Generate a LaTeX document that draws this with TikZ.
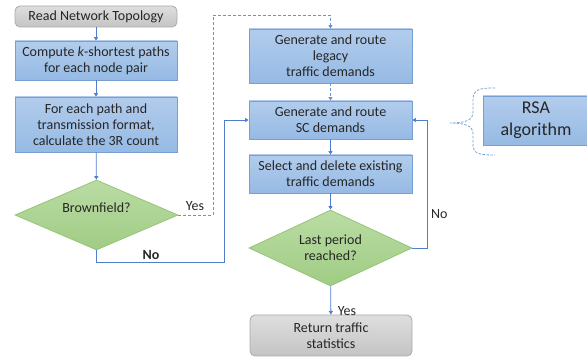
\documentclass[tikz,border=0pt]{standalone}
\usepackage{fontspec}
\setmainfont{Carlito}
\usetikzlibrary{shapes.geometric,arrows.meta,calc}
\definecolor{boxfillA}{RGB}{178,204,236}
\definecolor{boxfillB}{RGB}{150,186,228}
\definecolor{boxline}{RGB}{118,160,212}
\definecolor{decfillA}{RGB}{186,220,164}
\definecolor{decfillB}{RGB}{160,204,132}
\definecolor{decline}{RGB}{150,196,120}
\definecolor{endfillA}{RGB}{222,222,222}
\definecolor{endfillB}{RGB}{196,196,196}
\definecolor{endline}{RGB}{170,170,170}
\definecolor{flow}{RGB}{80,126,204}
\definecolor{flowlight}{RGB}{104,146,214}
\tikzset{
  txt/.style={font=\fontsize{14}{16}\selectfont, text=black!85},
  procbox/.style={txt, draw=boxline, line width=0.8pt, top color=boxfillA, bottom color=boxfillB,
    inner sep=0pt, align=center},
  endbox/.style={txt, draw=endline, line width=0.8pt, top color=endfillA, bottom color=endfillB,
    rounded corners=5pt, inner sep=0pt, align=center},
  decbox/.style={txt, diamond, draw=decline, line width=0.8pt, top color=decfillA, bottom color=decfillB,
    inner sep=0pt, aspect=2.3, align=center},
  flowline/.style={draw=flow, line width=0.8pt, -{Triangle[length=3.5pt,width=4pt]}},
  flowdash/.style={flowline, draw=flowlight, dashed, dash pattern=on 3pt off 2pt},
  lbl/.style={txt, inner sep=1pt},
}
\begin{document}
\begin{tikzpicture}[x=1pt,y=-1pt]
\useasboundingbox (0,0) rectangle (587,358);

% left column
\node[endbox, minimum width=162pt, minimum height=21pt] (read) at (96,16.5) {Read Network Topology};
\node[procbox, minimum width=162pt, minimum height=39pt] (kpath) at (96,60.5) {Compute \emph{k}-shortest paths\\for each node pair};
\node[procbox, minimum width=162pt, minimum height=55pt] (count) at (96,124.5) {For each path and\\transmission format,\\calculate the 3R count};
\node[decbox, minimum width=163pt, minimum height=70pt] (brown) at (96.5,215) {};
\node[txt] at (96.5,208) {Brownfield?};

% right column
\node[procbox, minimum width=163pt, minimum height=54pt] (legacy) at (330.5,56) {Generate and route\\legacy\\traffic demands};
\node[procbox, minimum width=163pt, minimum height=38pt] (sc) at (330.5,120) {Generate and route\\SC demands};
\node[procbox, minimum width=163pt, minimum height=38pt] (sel) at (330.5,174) {Select and delete existing\\traffic demands};
\node[decbox, minimum width=163pt, minimum height=76pt] (last) at (330.5,248) {Last period\\reached?};
\node[endbox, minimum width=162pt, minimum height=41pt] (ret) at (331,335.5) {Return traffic\\statistics};

% side box
\node[procbox, minimum width=106pt, minimum height=49pt, font=\fontsize{18}{22}\selectfont] (rsa) at (536,120.5) {RSA\\algorithm};

% junction points
\coordinate (yesA) at (213,215);
\coordinate (yesB) at (213,15);
\coordinate (noA) at (96.5,262);
\coordinate (noB) at (224,262);
\coordinate (loopA) at (427,248);
\coordinate (braceTip) at (450,123);

% connectors
\draw[flowline] (read) -- (kpath);
\draw[flowline] (kpath) -- (count);
\draw[flowline] (count) -- (brown);
\draw[flowdash] (brown.east) -- (yesA) -- (yesB) -| (legacy.north);
\draw[flowline] (brown.south) -- (noA) -- (noB) |- (sc.west);
\draw[flowdash] (legacy) -- (sc);
\draw[flowline] (sc) -- (sel);
\draw[flowline] (sel) -- (last);
\draw[flowline] (last.east) -- (loopA) |- (sc.east);
\draw[flowline] (last) -- (ret);

% labels
\node[lbl, anchor=south] at (195,212) {Yes};
\node[lbl, font=\fontsize{14}{16}\selectfont\bfseries, anchor=south] at (151,261) {No};
\node[lbl, anchor=west] at (430,214) {No};
\node[lbl, anchor=south] at (347,317) {Yes};

% dashed brace towards the RSA box
\draw[boxline, line width=0.8pt, dashed, dash pattern=on 2.5pt off 1.5pt]
  (495,88) .. controls (480,88) and (473,89) .. (473,100)
  -- (473,112) .. controls (473,120) and (466,123) .. (braceTip)
  .. controls (466,123) and (473,126) .. (473,134)
  -- (473,145) .. controls (473,154) and (480,155) .. (495,155);
\end{tikzpicture}
\end{document}
